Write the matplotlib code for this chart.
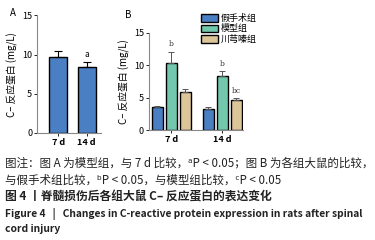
import matplotlib
matplotlib.use('Agg')
import matplotlib.pyplot as plt
import numpy as np

plt.rcParams['font.family'] = ['Noto Sans CJK SC', 'DejaVu Sans']

# panel A: model group only
days = ['7 d', '14 d']
a_mean = [9.7, 8.4]
a_err = [0.8, 0.6]
a_marks = ['', 'a']

# panel B: three groups
groups = ['假手术组', '模型组', '川芎嗪组']
colors = ['#4a7fc4', '#72c7ad', '#dcc599']
b_mean = [[3.5, 3.3], [10.3, 8.4], [5.9, 4.6]]
b_err = [[0.2, 0.2], [1.8, 0.7], [0.4, 0.3]]
b_marks = [['', ''], ['b', 'b'], ['', 'bc']]

ylab = 'C– 反应蛋白 (mg/L)'

fig = plt.figure(figsize=(3.75, 2.4), dpi=100)


def style(ax):
    for s in ['top', 'right']:
        ax.spines[s].set_visible(False)
    for s in ['left', 'bottom']:
        ax.spines[s].set_color('#888888')
        ax.spines[s].set_linewidth(0.8)
    ax.set_ylim(0, 15)
    ax.set_yticks([0, 5, 10, 15])
    ax.set_xticks(np.arange(len(days)))
    ax.set_xticklabels(days, fontsize=6.5, fontweight='bold')
    ax.tick_params(axis='y', labelsize=6.5, length=2.5, width=0.6, pad=1)
    ax.tick_params(axis='x', length=2.5, width=0.6, pad=1)
    ax.set_ylabel(ylab, fontsize=7, labelpad=3)


# ---- panel A
axA = fig.add_axes([0.099, 0.446, 0.17, 0.49])
x = np.arange(len(days))
axA.bar(x, a_mean, width=0.64, color='#4a7fc4', edgecolor='black', linewidth=1.0)
axA.errorbar(x, a_mean, yerr=[[0, 0], a_err], fmt='none', ecolor='black',
             elinewidth=0.8, capsize=3, capthick=0.8)
for i, m in enumerate(a_marks):
    if m:
        axA.text(x[i], a_mean[i] + a_err[i] + 0.4, m, ha='center', va='bottom', fontsize=6)
axA.set_xlim(-0.75, 1.5)
style(axA)
fig.text(0.027, 0.965, 'A', fontsize=7, va='top')

# ---- panel B
axB = fig.add_axes([0.397, 0.458, 0.25, 0.405])
w = 0.216
xb = np.arange(len(days))
for g in range(len(groups)):
    pos = xb + (g - 1) * 0.275
    axB.bar(pos, b_mean[g], width=w, color=colors[g], edgecolor='black',
            linewidth=1.0, label=groups[g])
    axB.errorbar(pos, b_mean[g], yerr=[[0, 0], b_err[g]], fmt='none', ecolor='#555555',
                 elinewidth=0.7, capsize=2.5, capthick=0.7)
    for i, m in enumerate(b_marks[g]):
        if m:
            axB.text(pos[i], b_mean[g][i] + b_err[g][i] + 0.5, m, ha='center',
                     va='bottom', fontsize=5.5, family=['DejaVu Serif'], color='#333333')
axB.set_xlim(-0.44, 1.4)
style(axB)
fig.legend(loc='upper left', bbox_to_anchor=(0.523, 0.96), frameon=False,
           fontsize=6.5, handlelength=1.9, handleheight=0.9, handletextpad=0.3,
           labelspacing=0.15, borderpad=0)
fig.text(0.333, 0.96, 'B', fontsize=7, va='top')

# ---- caption
cap = '#222222'
fig.text(0.013, 0.321, '图注：图 A 为模型组，与 7 d 比较，ᵃP < 0.05；图 B 为各组大鼠的比较，',
         fontsize=8.3, color=cap, va='center')
fig.text(0.013, 0.25, '与假手术组比较，ᵇP < 0.05，与模型组比较，ᶜP < 0.05',
         fontsize=8.3, color=cap, va='center')
fig.text(0.013, 0.179, '图 4 丨脊髓损伤后各组大鼠 C– 反应蛋白的表达变化',
         fontsize=8.5, color=cap, va='center', fontweight='bold')
fig.text(0.013, 0.108, 'Figure 4   |   Changes in C-reactive protein expression in rats after spinal',
         fontsize=7.4, color=cap, va='center', fontweight='bold')
fig.text(0.013, 0.046, 'cord injury',
         fontsize=7.4, color=cap, va='center', fontweight='bold')

fig.savefig('out.png', dpi=100, facecolor='white')
